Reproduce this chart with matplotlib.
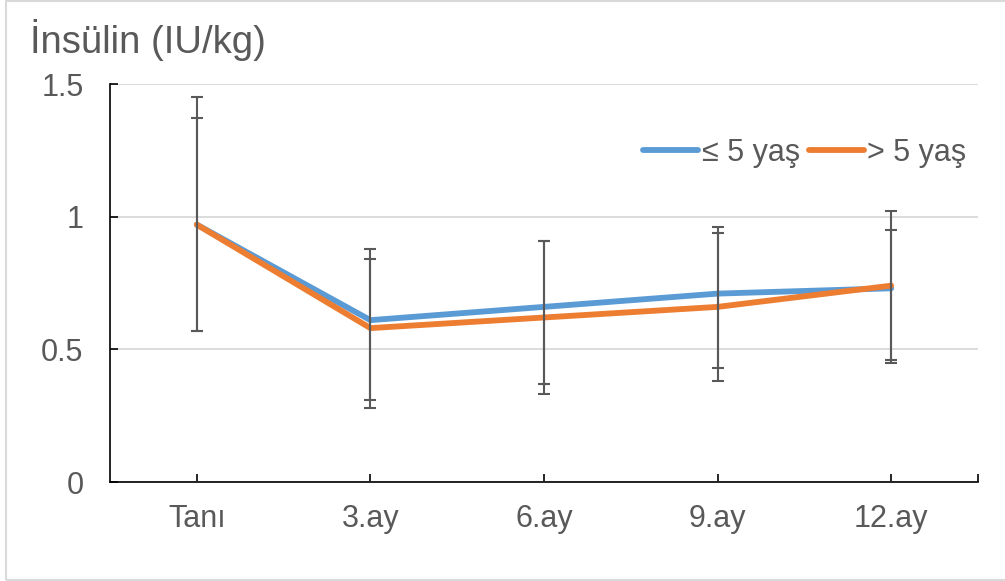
import matplotlib

matplotlib.use("Agg")
import matplotlib.pyplot as plt
from matplotlib.patches import Rectangle

# Insülin dozu (IU/kg) takibi, iki yaş grubu
zamanlar = ["Tanı", "3.ay", "6.ay", "9.ay", "12.ay"]

genc_ort = [0.97, 0.61, 0.66, 0.71, 0.73]      # ≤ 5 yaş
genc_alt = [0.57, 0.31, 0.37, 0.43, 0.46]
genc_ust = [1.37, 0.88, 0.91, 0.96, 0.95]

buyuk_ort = [0.97, 0.58, 0.62, 0.66, 0.74]     # > 5 yaş
buyuk_alt = [0.57, 0.28, 0.33, 0.38, 0.45]
buyuk_ust = [1.45, 0.84, 0.91, 0.94, 1.02]

MAVI = "#5B9BD5"
TURUNCU = "#ED7D31"
GRI = "#595959"

plt.rcParams["font.family"] = ["Liberation Sans", "DejaVu Sans"]

fig = plt.figure(figsize=(10.05, 5.81), dpi=100)
ax = fig.add_axes([110 / 1005, 1 - 482 / 581, 868 / 1005, 398 / 581])

x = list(range(len(zamanlar)))

ax.plot(x, genc_ort, color=MAVI, lw=4.2, solid_capstyle="round", label="≤ 5 yaş", zorder=3)
ax.plot(x, buyuk_ort, color=TURUNCU, lw=4.2, solid_capstyle="round", label="> 5 yaş", zorder=4)

# hata çubukları (alt/üst sınırlar)
for ort, alt, ust in ((genc_ort, genc_alt, genc_ust), (buyuk_ort, buyuk_alt, buyuk_ust)):
    yerr = [[o - a for o, a in zip(ort, alt)], [u - o for o, u in zip(ort, ust)]]
    ax.errorbar(x, ort, yerr=yerr, fmt="none", ecolor=GRI, elinewidth=1.5,
                capsize=4.5, capthick=1.5, zorder=5)

ax.set_xlim(-0.5, 4.5)
ax.set_ylim(0, 1.5)
ax.set_xticks(x)
ax.set_xticklabels(zamanlar)
ax.set_xticks([4.5], minor=True)
ax.set_yticks([0, 0.5, 1, 1.5])
ax.set_yticklabels(["0", "0.5", "1", "1.5"])

ax.tick_params(axis="both", which="both", direction="in", length=6, width=1.2,
               color="black", labelcolor=GRI, labelsize=22)
ax.tick_params(axis="y", pad=19)
ax.tick_params(axis="x", pad=16)

ax.grid(axis="y", color="#D9D9D9", lw=1.3)
ax.set_axisbelow(True)
for s in ("top", "right"):
    ax.spines[s].set_visible(False)
for s in ("left", "bottom"):
    ax.spines[s].set_color("black")
    ax.spines[s].set_linewidth(1.2)
    ax.spines[s].set_zorder(6)

leg = ax.legend(loc="center right", bbox_to_anchor=(966 / 1005, 1 - 153 / 581),
                bbox_transform=fig.transFigure, ncol=2, frameon=False, fontsize=22,
                handlelength=1.8, handletextpad=0.1, columnspacing=0.3,
                borderaxespad=0, borderpad=0)
for t in leg.get_texts():
    t.set_color(GRI)

fig.text(30 / 1005, 1 - 40 / 581, "İnsülin (IU/kg)", fontsize=27.5, color=GRI,
         ha="left", va="center")

# çerçeve
fig.patches.append(Rectangle((6 / 1005, 1 / 581), 1.0, 1 - 2 / 581,
                             transform=fig.transFigure, fill=False,
                             edgecolor="#D9D9D9", lw=1.5))

fig.savefig("out.png", dpi=100)
